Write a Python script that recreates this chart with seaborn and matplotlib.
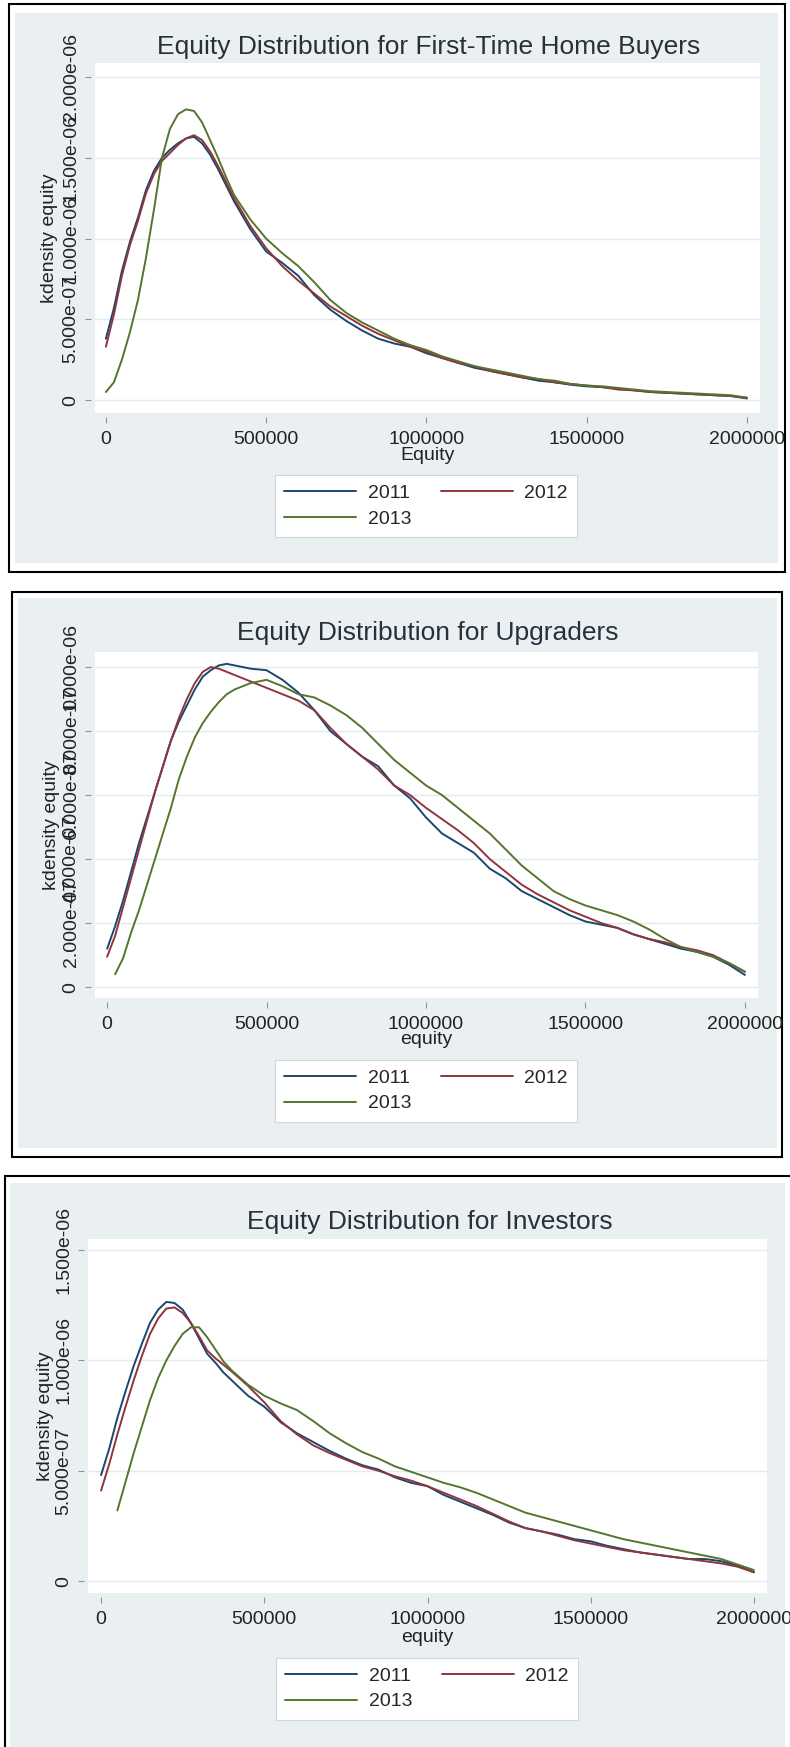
import numpy as np
import pandas as pd
import matplotlib
matplotlib.use("Agg")
import matplotlib.pyplot as plt
from matplotlib.patches import Rectangle
from matplotlib.lines import Line2D
import seaborn as sns

# equity grid (same for all three panels)
EQUITY = [0, 25000, 50000, 75000, 100000, 125000, 150000, 175000, 200000, 225000,
          250000, 275000, 300000, 325000, 350000, 375000, 400000, 450000, 500000,
          550000, 600000, 650000, 700000, 750000, 800000, 850000, 900000, 950000,
          1000000, 1050000, 1100000, 1150000, 1200000, 1250000, 1300000, 1350000,
          1400000, 1450000, 1500000, 1550000, 1600000, 1650000, 1700000, 1750000,
          1800000, 1850000, 1900000, 1950000, 2000000]
YEARS = ["2011", "2012", "2013"]

# kernel density, in units of 1e-6
FTB_2011 = [0.38, 0.57, 0.80, 0.98, 1.13, 1.30, 1.42, 1.50, 1.55, 1.59, 1.62, 1.63, 1.59,
            1.52, 1.43, 1.33, 1.23, 1.06, 0.92, 0.85, 0.77, 0.65, 0.56, 0.49, 0.43, 0.38,
            0.35, 0.33, 0.29, 0.26, 0.23, 0.20, 0.18, 0.16, 0.14, 0.12, 0.11, 0.095, 0.085,
            0.08, 0.07, 0.06, 0.05, 0.045, 0.04, 0.035, 0.03, 0.025, 0.01]
FTB_2012 = [0.33, 0.53, 0.77, 0.96, 1.11, 1.28, 1.40, 1.48, 1.53, 1.58, 1.62, 1.64, 1.61,
            1.54, 1.45, 1.35, 1.25, 1.08, 0.94, 0.83, 0.74, 0.66, 0.58, 0.52, 0.46, 0.41,
            0.37, 0.33, 0.30, 0.26, 0.23, 0.21, 0.18, 0.16, 0.14, 0.13, 0.11, 0.10, 0.09,
            0.08, 0.065, 0.06, 0.05, 0.045, 0.04, 0.035, 0.03, 0.025, 0.015]
FTB_2013 = [0.05, 0.11, 0.25, 0.42, 0.62, 0.88, 1.18, 1.50, 1.68, 1.77, 1.80, 1.79, 1.72,
            1.61, 1.50, 1.38, 1.27, 1.12, 1.00, 0.91, 0.83, 0.73, 0.62, 0.54, 0.48, 0.43,
            0.38, 0.34, 0.31, 0.27, 0.24, 0.21, 0.19, 0.17, 0.15, 0.13, 0.12, 0.10, 0.09,
            0.085, 0.075, 0.065, 0.055, 0.05, 0.045, 0.04, 0.035, 0.03, 0.015]

UPG_2011 = [0.12, 0.19, 0.27, 0.36, 0.45, 0.53, 0.61, 0.69, 0.77, 0.83, 0.88, 0.93, 0.97,
            0.99, 1.005, 1.01, 1.005, 0.995, 0.99, 0.96, 0.92, 0.865, 0.80, 0.76, 0.72, 0.69,
            0.63, 0.59, 0.53, 0.48, 0.45, 0.42, 0.37, 0.34, 0.30, 0.275, 0.25, 0.225, 0.205,
            0.195, 0.185, 0.165, 0.15, 0.135, 0.12, 0.11, 0.095, 0.07, 0.038]
UPG_2012 = [0.095, 0.16, 0.25, 0.34, 0.43, 0.52, 0.61, 0.69, 0.77, 0.84, 0.90, 0.95, 0.985,
            1.0, 0.995, 0.985, 0.975, 0.955, 0.935, 0.915, 0.895, 0.865, 0.81, 0.76, 0.72,
            0.68, 0.63, 0.60, 0.56, 0.525, 0.49, 0.45, 0.40, 0.36, 0.32, 0.29, 0.265, 0.24,
            0.22, 0.20, 0.185, 0.165, 0.15, 0.14, 0.125, 0.115, 0.10, 0.075, 0.048]
UPG_2013 = [np.nan, 0.04, 0.09, 0.17, 0.24, 0.32, 0.40, 0.48, 0.56, 0.65, 0.72, 0.78, 0.825,
            0.86, 0.89, 0.915, 0.93, 0.95, 0.96, 0.94, 0.915, 0.905, 0.88, 0.85, 0.81, 0.76,
            0.71, 0.67, 0.63, 0.60, 0.56, 0.52, 0.48, 0.43, 0.38, 0.34, 0.30, 0.275, 0.255,
            0.24, 0.225, 0.205, 0.18, 0.15, 0.125, 0.11, 0.095, 0.075, 0.048]

INV_2011 = [0.48, 0.60, 0.74, 0.86, 0.975, 1.075, 1.17, 1.23, 1.265, 1.26, 1.23, 1.17, 1.10,
            1.03, 0.99, 0.945, 0.91, 0.84, 0.79, 0.72, 0.67, 0.63, 0.59, 0.555, 0.525, 0.505,
            0.47, 0.445, 0.43, 0.39, 0.36, 0.33, 0.30, 0.265, 0.24, 0.225, 0.21, 0.19, 0.18,
            0.16, 0.145, 0.13, 0.12, 0.11, 0.10, 0.10, 0.09, 0.07, 0.04]
INV_2012 = [0.41, 0.53, 0.665, 0.79, 0.91, 1.02, 1.12, 1.19, 1.235, 1.24, 1.215, 1.17, 1.11,
            1.045, 1.01, 0.98, 0.95, 0.885, 0.81, 0.725, 0.665, 0.615, 0.58, 0.55, 0.52, 0.50,
            0.475, 0.455, 0.43, 0.40, 0.37, 0.34, 0.305, 0.27, 0.24, 0.225, 0.205, 0.185, 0.17,
            0.155, 0.14, 0.13, 0.12, 0.11, 0.10, 0.09, 0.08, 0.065, 0.04]
INV_2013 = [np.nan, np.nan, 0.32, 0.45, 0.58, 0.70, 0.82, 0.92, 1.00, 1.065, 1.12, 1.15, 1.15,
            1.105, 1.05, 0.995, 0.955, 0.89, 0.84, 0.805, 0.775, 0.725, 0.67, 0.625, 0.585,
            0.555, 0.52, 0.495, 0.47, 0.445, 0.425, 0.40, 0.37, 0.34, 0.31, 0.29, 0.27, 0.25,
            0.23, 0.21, 0.19, 0.175, 0.16, 0.145, 0.13, 0.115, 0.10, 0.075, 0.05]

XTICKS = [0, 500000, 1000000, 1500000, 2000000]
YTICKS_FTB = [0, 5e-7, 1e-6, 1.5e-6, 2e-6]
YTICKS_UPG = [0, 2e-7, 4e-7, 6e-7, 8e-7, 1e-6]
YTICKS_INV = [0, 5e-7, 1e-6, 1.5e-6]

COLORS = {"2011": "#1a476f", "2012": "#90353b", "2013": "#55752f"}
BG = "#eaf0f2"

W, H = 790, 1747

sns.set_theme(style="white")
plt.rcParams["font.family"] = ["Liberation Sans", "DejaVu Sans"]


def fx(px):
    return px / W


def fy(py):
    return 1 - py / H


def box(fig, x0, y0, x1, y1, **kw):
    fig.add_artist(Rectangle((fx(x0), fy(y1)), fx(x1) - fx(x0), fy(y0) - fy(y1),
                             transform=fig.transFigure, zorder=-2, **kw))


def fmt(v):
    return "0" if v == 0 else f"{v:.3e}"


panels = [
    dict(title="Equity Distribution for First-Time Home Buyers", xlabel="Equity",
         series=[FTB_2011, FTB_2012, FTB_2013], yticks=YTICKS_FTB,
         border=(9, 4, 785, 572), inner=(15, 13, 778, 563),
         ax=(95, 63, 760, 413), xlim=(-34000, 2041000), ylim=(-0.080e-6, 2.087e-6),
         title_xy=(429, 47), ylab_x=49, xlab_y=455, leg_xy=(426, 506)),
    dict(title="Equity Distribution for Upgraders", xlabel="equity",
         series=[UPG_2011, UPG_2012, UPG_2013], yticks=YTICKS_UPG,
         border=(12, 592, 782, 1157), inner=(18, 598, 777, 1148),
         ax=(95, 652, 758, 998), xlim=(-38000, 2041000), ylim=(-0.034e-6, 1.047e-6),
         title_xy=(428, 633), ylab_x=52, xlab_y=1040, leg_xy=(426, 1091)),
    dict(title="Equity Distribution for Investors", xlabel="equity",
         series=[INV_2011, INV_2012, INV_2013], yticks=YTICKS_INV,
         border=(5, 1176, 800, 1760), inner=(10, 1183, 785, 1747),
         ax=(88, 1239, 767, 1593), xlim=(-40000, 2040000), ylim=(-0.054e-6, 1.550e-6),
         title_xy=(430, 1222), ylab_x=45, xlab_y=1637, leg_xy=(427, 1689)),
]

fig = plt.figure(figsize=(W / 100, H / 100), dpi=100)
fig.patch.set_facecolor("white")

for p in panels:
    box(fig, *p["border"], facecolor="white", edgecolor="black", linewidth=1.5)
    box(fig, *p["inner"], facecolor=BG, edgecolor="none")

    x0, y0, x1, y1 = p["ax"]
    ax = fig.add_axes([fx(x0), fy(y1), fx(x1) - fx(x0), fy(y0) - fy(y1)])
    ax.set_facecolor("white")

    df = pd.concat([
        pd.DataFrame({"equity": EQUITY, "density": np.array(vals) * 1e-6, "year": yr})
        for yr, vals in zip(YEARS, p["series"])
    ]).dropna()
    sns.lineplot(data=df, x="equity", y="density", hue="year", palette=COLORS,
                 estimator=None, linewidth=1.4, legend=False, ax=ax)

    ax.set_xlim(*p["xlim"])
    ax.set_ylim(*p["ylim"])
    ax.set_xticks(XTICKS)
    ax.set_xticklabels([str(t) for t in XTICKS])
    ax.set_yticks(p["yticks"])
    ax.set_yticklabels([fmt(t) for t in p["yticks"]])
    ax.set_xlabel("")
    ax.set_ylabel("")
    for s in ax.spines.values():
        s.set_visible(False)
    ax.spines["left"].set_position(("outward", 3))
    ax.spines["bottom"].set_position(("outward", 3))
    ax.yaxis.grid(True, color="#e4ebee", linewidth=1.0)
    ax.set_axisbelow(True)
    ax.tick_params(axis="both", direction="out", length=4, width=0.8, color="#8a949a",
                   labelsize=14, labelcolor="#222222", left=True, bottom=True)
    ax.tick_params(axis="x", pad=6)
    ax.tick_params(axis="y", pad=4, labelrotation=90)
    for lab in ax.get_yticklabels():
        lab.set_verticalalignment("center")

    fig.text(fx(p["title_xy"][0]), fy(p["title_xy"][1]), p["title"], fontsize=19,
             color="#2a303a", ha="center", va="center")
    fig.text(fx(p["ylab_x"]), fy((y0 + y1) / 2), "kdensity equity", fontsize=14,
             color="#222222", rotation=90, ha="center", va="center")
    fig.text(fx((x0 + x1) / 2), fy(p["xlab_y"]), p["xlabel"], fontsize=14,
             color="#222222", ha="center", va="center")

    # row-major order like Stata: 2011 2012 / 2013
    handles = [Line2D([], [], color=COLORS[y], linewidth=1.4) for y in ["2011", "2013", "2012"]]
    leg = fig.legend(handles, ["2011", "2013", "2012"], ncol=2, loc="center",
                     bbox_to_anchor=(fx(p["leg_xy"][0]), fy(p["leg_xy"][1])),
                     fontsize=14, handlelength=3.7, handletextpad=0.6, columnspacing=1.5,
                     labelspacing=0.4, borderpad=0.5, fancybox=False, framealpha=1,
                     edgecolor="#cfd7db")
    leg.get_frame().set_linewidth(0.8)

fig.savefig("out.png", dpi=100)
